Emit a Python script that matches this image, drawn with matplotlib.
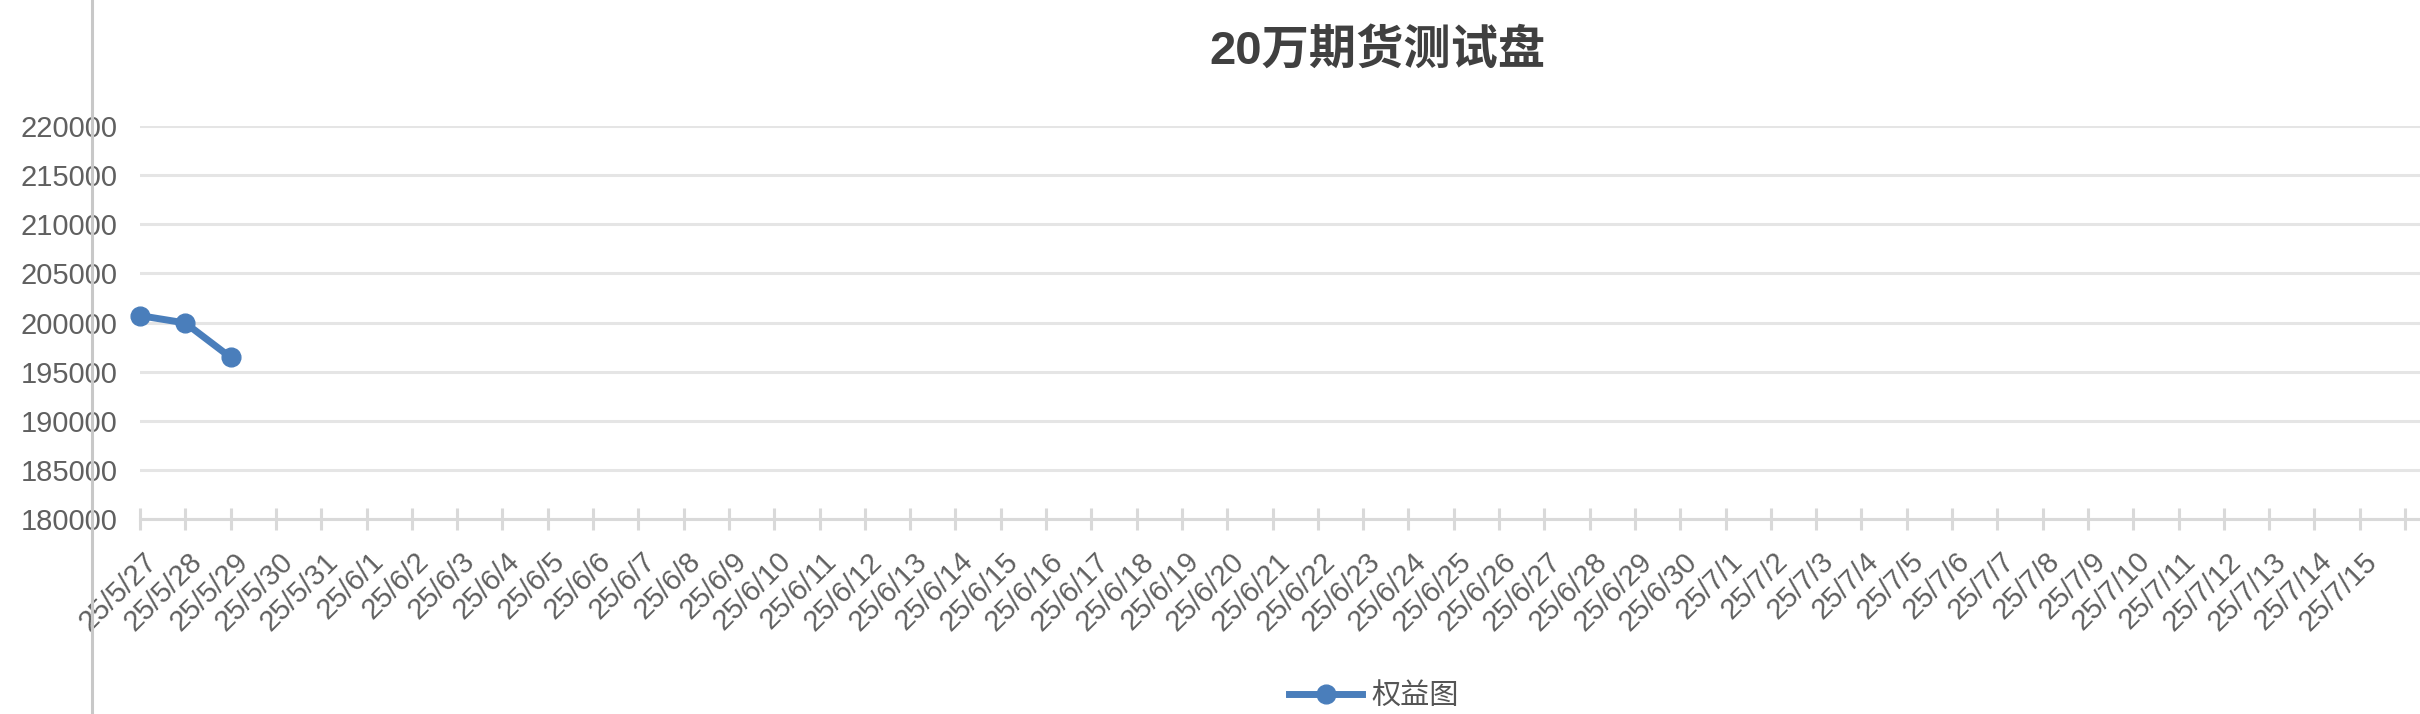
import matplotlib
matplotlib.use("Agg")
import matplotlib.pyplot as plt
from matplotlib.lines import Line2D
from matplotlib.transforms import ScaledTranslation

plt.rcParams['font.family'] = ['Liberation Sans', 'Noto Sans CJK SC', 'DejaVu Sans']

TITLE = "20万期货测试盘"
SERIES_NAME = "权益图"
DATES = [
    "25/5/27", "25/5/28", "25/5/29", "25/5/30", "25/5/31",
    "25/6/1", "25/6/2", "25/6/3", "25/6/4", "25/6/5", "25/6/6", "25/6/7",
    "25/6/8", "25/6/9", "25/6/10", "25/6/11", "25/6/12", "25/6/13", "25/6/14",
    "25/6/15", "25/6/16", "25/6/17", "25/6/18", "25/6/19", "25/6/20", "25/6/21",
    "25/6/22", "25/6/23", "25/6/24", "25/6/25", "25/6/26", "25/6/27", "25/6/28",
    "25/6/29", "25/6/30",
    "25/7/1", "25/7/2", "25/7/3", "25/7/4", "25/7/5", "25/7/6", "25/7/7",
    "25/7/8", "25/7/9", "25/7/10", "25/7/11", "25/7/12", "25/7/13", "25/7/14",
    "25/7/15",
]
EQUITY = [200700, 199950, 196450]
Y_TICKS = [180000, 185000, 190000, 195000, 200000, 205000, 210000, 215000, 220000]

LINE_COLOR = "#4a7ebb"
TEXT_COLOR = "#606060"
GRID_COLOR = "#e5e5e5"
AXIS_COLOR = "#d9d9d9"

W, H = 2420, 714
fig = plt.figure(figsize=(W / 100, H / 100), dpi=100)
ax = fig.add_axes([140 / W, 1 - 519 / H, 1 - 140 / W, (519 - 126) / H])

ax.plot(range(len(EQUITY)), EQUITY, color=LINE_COLOR, lw=5, marker="o", ms=13.5,
        clip_on=False, zorder=5, label=SERIES_NAME)

ax.set_xlim(0, (W - 140) / 45.3)
ax.set_ylim(Y_TICKS[0], Y_TICKS[-1])
ax.set_yticks(Y_TICKS)
ax.set_yticklabels([str(v) for v in Y_TICKS])
ax.set_xticks(range(len(DATES) + 1))
ax.set_xticklabels(DATES + [""], rotation=45, ha="right", va="top", rotation_mode="anchor")

ax.tick_params(axis="x", direction="inout", length=16.5, width=2.2, color=AXIS_COLOR,
               pad=12, labelsize=21, labelcolor=TEXT_COLOR)
ax.tick_params(axis="y", length=0, pad=16, labelsize=21, labelcolor=TEXT_COLOR)
for lab in ax.get_xticklabels():
    lab.set_transform(lab.get_transform() + ScaledTranslation(0.03, 0, fig.dpi_scale_trans))

ax.yaxis.grid(True, color=GRID_COLOR, lw=2.2)
ax.set_axisbelow(True)
for side in ["top", "right", "left"]:
    ax.spines[side].set_visible(False)
ax.spines["bottom"].set_color(AXIS_COLOR)
ax.spines["bottom"].set_linewidth(2.2)
ax.spines["bottom"].set_zorder(3)

# grey border line on the left edge of the page
fig.add_artist(Line2D([92 / W, 92 / W], [0, 1], transform=fig.transFigure,
                      color="#c8c8c8", lw=2.2, zorder=10))

fig.text(1377 / W, 1 - 51 / H, TITLE, ha="center", va="center", fontsize=34,
         fontweight="bold", color="#404040")

fig.legend(loc="center", bbox_to_anchor=(1374 / W, 1 - 696 / H), frameon=False,
           fontsize=21, handlelength=2.5, handletextpad=0.3, borderpad=0,
           numpoints=1, labelcolor="#555555")

fig.savefig("out.png", dpi=100)
